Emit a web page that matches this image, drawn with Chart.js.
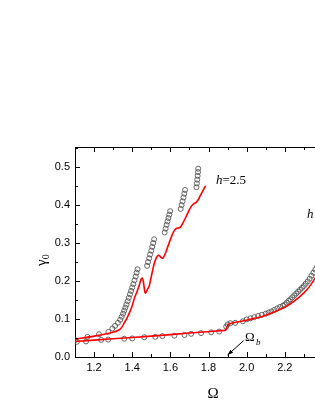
<!DOCTYPE html>
<html>
<head>
<meta charset="utf-8">
<script src="https://cdn.jsdelivr.net/npm/chart.js@4/dist/chart.umd.min.js"></script>
<style>
  html, body { margin: 0; padding: 0; background: #fff; }
  #wrap { width: 315px; height: 407px; overflow: hidden; position: relative; }
  canvas { display: block; }
</style>
</head>
<body>
<div id="wrap"><canvas id="chart" width="360" height="407"></canvas></div>
<script>
// values (Omega, gamma0)
const lowCircOmega = [1.11, 1.158, 1.237, 1.274, 1.358, 1.40, 1.463, 1.521, 1.558, 1.621, 1.674, 1.709, 1.761, 1.814, 1.856,
  1.893, 1.900, 1.915, 1.94, 1.98, 2.00, 2.02, 2.04, 2.06, 2.08, 2.10, 2.115, 2.13, 2.145, 2.16, 2.175, 2.19,
  2.20, 2.21, 2.22, 2.23, 2.24, 2.25, 2.26, 2.27, 2.28, 2.29, 2.30, 2.31, 2.32, 2.33, 2.34, 2.35, 2.36, 2.37];
const lowCircGamma = [0.040, 0.041, 0.045, 0.046, 0.048, 0.049, 0.052, 0.053, 0.055, 0.056, 0.058, 0.061, 0.063, 0.065, 0.067,
  0.080, 0.086, 0.089, 0.090, 0.094, 0.099, 0.102, 0.105, 0.108, 0.111, 0.114, 0.117, 0.120, 0.124, 0.128, 0.132, 0.135,
  0.138, 0.143, 0.148, 0.152, 0.157, 0.162, 0.167, 0.172, 0.177, 0.182, 0.187, 0.193, 0.199, 0.206, 0.214, 0.222, 0.230, 0.238];

const lowLineOmega = [1.10, 1.30, 1.50, 1.70, 1.885, 1.89, 1.905, 1.93, 2.00, 2.10, 2.20, 2.25, 2.30, 2.33, 2.37];
const lowLineGamma = [0.041, 0.048, 0.055, 0.063, 0.070, 0.071, 0.086, 0.090, 0.097, 0.110, 0.131, 0.147, 0.169, 0.186, 0.216];

const upCircOmega = [1.10, 1.165, 1.226, 1.275, 1.296, 1.31, 1.325, 1.337, 1.345, 1.352, 1.358, 1.364, 1.370, 1.376, 1.382,
  1.388, 1.394, 1.400, 1.406, 1.412, 1.418, 1.423, 1.428,
  1.478, 1.483, 1.489, 1.494, 1.500, 1.505, 1.510, 1.515,
  1.570, 1.575, 1.580, 1.585, 1.590, 1.595, 1.599,
  1.654, 1.659, 1.664, 1.669, 1.673, 1.677,
  1.737, 1.739, 1.741, 1.743, 1.745, 1.746];
const upCircGamma = [0.045, 0.053, 0.060, 0.066, 0.075, 0.082, 0.090, 0.098, 0.106, 0.114, 0.122, 0.130, 0.138, 0.147, 0.156,
  0.165, 0.174, 0.183, 0.192, 0.202, 0.212, 0.222, 0.231,
  0.240, 0.250, 0.260, 0.270, 0.280, 0.290, 0.300, 0.310,
  0.328, 0.338, 0.348, 0.357, 0.366, 0.375, 0.384,
  0.390, 0.400, 0.410, 0.420, 0.430, 0.440,
  0.447, 0.457, 0.467, 0.477, 0.487, 0.496];

const upLineOmega = [1.10, 1.20, 1.30, 1.33, 1.345, 1.358, 1.37, 1.384, 1.40, 1.411, 1.425, 1.437, 1.447, 1.452, 1.458, 1.465,
  1.470, 1.48, 1.489, 1.498, 1.507, 1.516, 1.527, 1.538, 1.548, 1.56, 1.573, 1.586, 1.609, 1.622, 1.633, 1.645, 1.653,
  1.665, 1.679, 1.695, 1.709, 1.722, 1.735, 1.746, 1.756, 1.770, 1.784];
const upLineGamma = [0.047, 0.055, 0.065, 0.071, 0.078, 0.090, 0.100, 0.115, 0.135, 0.154, 0.172, 0.189, 0.205, 0.208, 0.200, 0.175,
  0.168, 0.178, 0.187, 0.207, 0.228, 0.247, 0.262, 0.268, 0.264, 0.260, 0.272, 0.290, 0.321, 0.334, 0.339, 0.340, 0.342,
  0.352, 0.366, 0.383, 0.396, 0.403, 0.407, 0.414, 0.424, 0.437, 0.451];

const xTickLabels = ['1.2', '1.4', '1.6', '1.8', '2.0', '2.2', '2.4'];
const yTickLabels = ['0.0', '0.1', '0.2', '0.3', '0.4', '0.5'];

const pts = (xs, ys) => xs.map((x, i) => ({ x: x, y: ys[i] }));

const circleStyle = {
  showLine: false,
  pointStyle: 'circle',
  pointRadius: 2.5,
  pointBorderWidth: 0.9,
  pointBorderColor: '#555',
  pointBackgroundColor: 'rgba(255,255,255,0)',
};
const lineStyle = {
  showLine: true,
  pointRadius: 0,
  borderColor: '#ff0000',
  borderWidth: 1.6,
  tension: 0.3,
};

const keepOn = (step) => (scale) => {
  scale.ticks = scale.ticks.filter(t => Math.abs(t.value / step - Math.round(t.value / step)) < 1e-6);
};
const labelFor = (list) => (v) => list.find(l => Math.abs(parseFloat(l) - v) < 1e-6) || '';

const decor = {
  id: 'decor',
  afterDraw(chart) {
    const ctx = chart.ctx, ca = chart.chartArea;
    const xs = chart.scales.x, ys = chart.scales.y;
    ctx.save();
    ctx.strokeStyle = '#000';
    ctx.lineWidth = 1;
    ctx.beginPath();
    ctx.moveTo(ca.left, Math.round(ca.top) + 0.5);
    ctx.lineTo(ca.right, Math.round(ca.top) + 0.5);
    ctx.moveTo(Math.round(ca.right) + 0.5, ca.top);
    ctx.lineTo(Math.round(ca.right) + 0.5, ca.bottom);
    // x ticks (inward), major every 0.2, minor every 0.1
    for (let k = 11; k <= 25; k++) {
      const v = k / 10;
      const px = Math.round(xs.getPixelForValue(v)) + 0.5;
      const len = (k % 2 === 0) ? 5 : 3;
      ctx.moveTo(px, ca.bottom); ctx.lineTo(px, ca.bottom - len);
      ctx.moveTo(px, ca.top); ctx.lineTo(px, ca.top + len);
    }
    // y ticks, major every 0.1, minor every 0.05
    for (let k = 0; k <= 11; k++) {
      const v = k * 0.05;
      const py = Math.round(ys.getPixelForValue(v)) + 0.5;
      const len = (k % 2 === 0) ? 5 : 3;
      ctx.moveTo(ca.left, py); ctx.lineTo(ca.left + len, py);
      ctx.moveTo(ca.right, py); ctx.lineTo(ca.right - len, py);
    }
    ctx.stroke();

    // arrow for Omega_b
    const tipX = xs.getPixelForValue(1.9), tipY = ys.getPixelForValue(0.005);
    const tailX = xs.getPixelForValue(1.984), tailY = ys.getPixelForValue(0.043);
    ctx.beginPath();
    ctx.moveTo(tailX, tailY); ctx.lineTo(tipX, tipY);
    ctx.stroke();
    const ang = Math.atan2(tipY - tailY, tipX - tailX);
    ctx.beginPath();
    ctx.moveTo(tipX, tipY);
    ctx.lineTo(tipX - 6 * Math.cos(ang - 0.35), tipY - 6 * Math.sin(ang - 0.35));
    ctx.lineTo(tipX - 6 * Math.cos(ang + 0.35), tipY - 6 * Math.sin(ang + 0.35));
    ctx.closePath();
    ctx.fillStyle = '#000';
    ctx.fill();

    ctx.fillStyle = '#000';
    ctx.textBaseline = 'alphabetic';
    ctx.textAlign = 'left';
    ctx.font = '13px "Liberation Serif"';
    ctx.fillText('\u03A9', 245, 341);
    ctx.font = 'italic 9px "Liberation Serif"';
    ctx.fillText('b', 256, 345);

    // series labels
    ctx.font = 'italic 13px "Liberation Serif"';
    ctx.fillText('h', 216, 184);
    let w = ctx.measureText('h').width;
    ctx.font = '13px "Liberation Serif"';
    ctx.fillText('=2.5', 216 + w, 184);

    ctx.font = 'italic 13px "Liberation Serif"';
    ctx.fillText('h', 307, 218);
    w = ctx.measureText('h').width;
    ctx.font = '13px "Liberation Serif"';
    ctx.fillText('=0.5', 309 + w, 218);

    // x title
    ctx.textAlign = 'center';
    ctx.font = '15px "Liberation Serif"';
    ctx.fillText('\u03A9', 213, 398);

    // y title
    ctx.translate(46, 258);
    ctx.rotate(-Math.PI / 2);
    ctx.textAlign = 'left';
    ctx.font = '15px "Liberation Serif"';
    ctx.fillText('\u03B3', -8, 0);
    w = ctx.measureText('\u03B3').width;
    ctx.font = '10px "Liberation Serif"';
    ctx.fillText('0', -8 + w, 3);
    ctx.restore();
  }
};

new Chart(document.getElementById('chart').getContext('2d'), {
  type: 'scatter',
  data: {
    datasets: [
      Object.assign({ data: pts(lowLineOmega, lowLineGamma) }, lineStyle),
      Object.assign({ data: pts(upLineOmega, upLineGamma) }, lineStyle),
      Object.assign({ data: pts(lowCircOmega, lowCircGamma) }, circleStyle),
      Object.assign({ data: pts(upCircOmega, upCircGamma) }, circleStyle),
    ],
  },
  options: {
    responsive: false,
    animation: false,
    layout: { padding: { top: 147, right: 18, left: 0, bottom: 0 } },
    plugins: { legend: { display: false }, tooltip: { enabled: false } },
    scales: {
      x: {
        type: 'linear',
        min: 1.1,
        max: 2.5,
        grid: { display: false, drawTicks: false, tickLength: 0 },
        border: { display: true, color: '#000', width: 1 },
        ticks: {
          stepSize: 0.1,
          autoSkip: false,
          maxRotation: 0,
          padding: 4,
          color: '#000',
          font: { family: '"Liberation Sans"', size: 11 },
          callback: labelFor(xTickLabels),
        },
        afterBuildTicks: keepOn(0.2),
        afterFit: (s) => { s.height = 50; },
      },
      y: {
        min: 0,
        max: 0.553,
        grid: { display: false, drawTicks: false, tickLength: 0 },
        border: { display: true, color: '#000', width: 1 },
        ticks: {
          stepSize: 0.1,
          padding: 5,
          color: '#000',
          font: { family: '"Liberation Sans"', size: 11 },
          callback: labelFor(yTickLabels),
        },
        afterBuildTicks: keepOn(0.1),
        afterFit: (s) => { s.width = 75; },
      },
    },
  },
  plugins: [decor],
});
</script>
</body>
</html>
